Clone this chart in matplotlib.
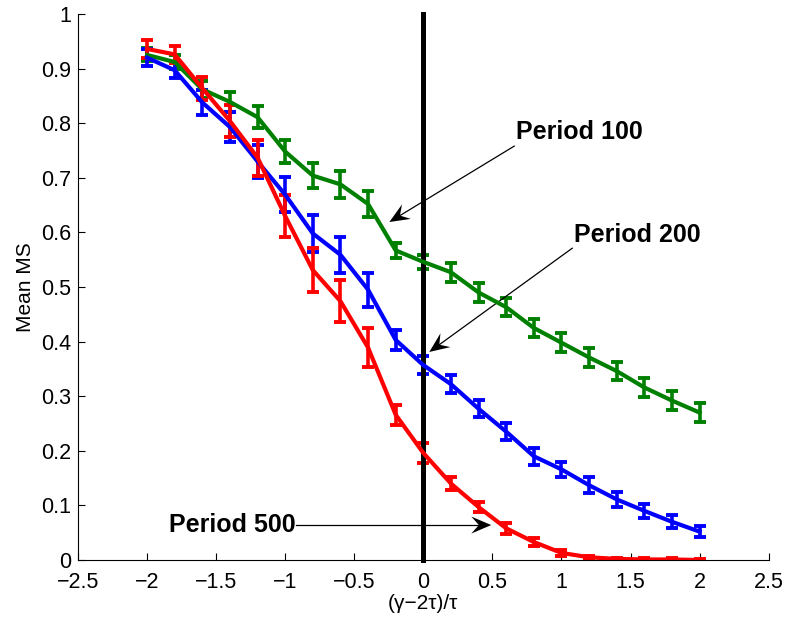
import numpy as np
import matplotlib
matplotlib.use("Agg")
import matplotlib.pyplot as plt
from matplotlib.patches import Polygon

plt.rcParams["font.family"] = ["Liberation Sans", "DejaVu Sans"]

# abscisse commune
x = [-2.0, -1.8, -1.6, -1.4, -1.2, -1.0, -0.8, -0.6, -0.4, -0.2, 0.0,
     0.2, 0.4, 0.6, 0.8, 1.0, 1.2, 1.4, 1.6, 1.8, 2.0]

# Period 100 (vert)
p100 = [0.925, 0.912, 0.862, 0.839, 0.811, 0.748, 0.704, 0.688, 0.652, 0.567, 0.546,
        0.527, 0.490, 0.463, 0.425, 0.398, 0.371, 0.346, 0.316, 0.292, 0.270]
p100_err = [0.012, 0.012, 0.015, 0.018, 0.020, 0.021, 0.023, 0.025, 0.024, 0.014, 0.013,
            0.017, 0.017, 0.017, 0.017, 0.017, 0.017, 0.017, 0.017, 0.017, 0.017]

# Period 200 (bleu)
p200 = [0.920, 0.897, 0.838, 0.793, 0.730, 0.669, 0.598, 0.559, 0.495, 0.403, 0.357,
        0.322, 0.277, 0.235, 0.190, 0.166, 0.137, 0.111, 0.090, 0.070, 0.052]
p200_err = [0.015, 0.015, 0.023, 0.027, 0.030, 0.032, 0.034, 0.033, 0.031, 0.018, 0.016,
            0.016, 0.016, 0.016, 0.016, 0.014, 0.015, 0.014, 0.013, 0.012, 0.010]

# Period 500 (rouge)
p500 = [0.936, 0.926, 0.864, 0.804, 0.737, 0.630, 0.531, 0.474, 0.389, 0.266, 0.196,
        0.140, 0.097, 0.058, 0.033, 0.013, 0.005, 0.002, 0.001, 0.001, 0.000]
p500_err = [0.016, 0.016, 0.021, 0.029, 0.033, 0.038, 0.040, 0.038, 0.036, 0.018, 0.018,
            0.012, 0.009, 0.010, 0.007, 0.005, 0.003, 0.002, 0.002, 0.002, 0.002]

series = [
    (p100, p100_err, "#008000"),
    (p200, p200_err, "#0000ff"),
    (p500, p500_err, "#ff0000"),
]

# annotations : texte, position du texte, queue et pointe de la fleche
annotations = [
    ("Period 100", (0.673, 0.784), "left", (0.658, 0.758), (-0.246, 0.619)),
    ("Period 200", (1.093, 0.595), "left", (1.078, 0.571), (0.043, 0.381)),
    ("Period 500", (-0.925, 0.064), "right", (-0.919, 0.064), (0.492, 0.064)),
]

fig = plt.figure(figsize=(7.9, 6.19), dpi=100)
ax = fig.add_axes([0.0987, 0.0953, 0.8743, 0.8821])

for vals, err, col in series:
    ax.errorbar(x, vals, yerr=err, color=col, lw=3, capsize=4.3, capthick=2.8,
                elinewidth=2.6)

# ligne verticale en 0
ax.plot([0, 0], [0, 1], color="black", lw=3.6, clip_on=False)

ax.set_xlim(-2.5, 2.5)
ax.set_ylim(0, 1)
ax.set_xticks(np.arange(-2.5, 2.51, 0.5))
ax.set_yticks(np.arange(0, 1.01, 0.1))
ax.set_xticklabels(["\u22122.5", "\u22122", "\u22121.5", "\u22121", "\u22120.5", "0",
                    "0.5", "1", "1.5", "2", "2.5"])
ax.set_yticklabels(["0", "0.1", "0.2", "0.3", "0.4", "0.5", "0.6", "0.7", "0.8", "0.9", "1"])
ax.tick_params(direction="in", length=5, labelsize=15.5, width=0.8)
ax.tick_params(axis="x", pad=8.5)
ax.tick_params(axis="y", pad=5)
ax.spines["top"].set_visible(False)
ax.spines["right"].set_visible(False)
ax.set_xlabel("(\u03b3\u22122\u03c4)/\u03c4", fontsize=15, labelpad=1)
ax.set_ylabel("Mean MS", fontsize=15, labelpad=4)

# fleches style matlab (pointe creuse a l'arriere)
for txt, pos, ha, tail, head in annotations:
    ax.text(pos[0], pos[1], txt, fontsize=18, fontweight="bold", ha=ha, va="center")
    p0 = ax.transData.transform(tail)
    p1 = ax.transData.transform(head)
    d = (p1 - p0) / np.hypot(*(p1 - p0))
    n = np.array([-d[1], d[0]])
    L, W = 20, 8.5
    notch = p1 - 0.62 * L * d
    ax.plot(*ax.transData.inverted().transform([p0, notch]).T, color="black", lw=0.9)
    pts = [p1, p1 - L * d + W * n, notch, p1 - L * d - W * n]
    ax.add_patch(Polygon(ax.transData.inverted().transform(pts), closed=True,
                         color="black", lw=0))

fig.savefig("out.png", dpi=100)
